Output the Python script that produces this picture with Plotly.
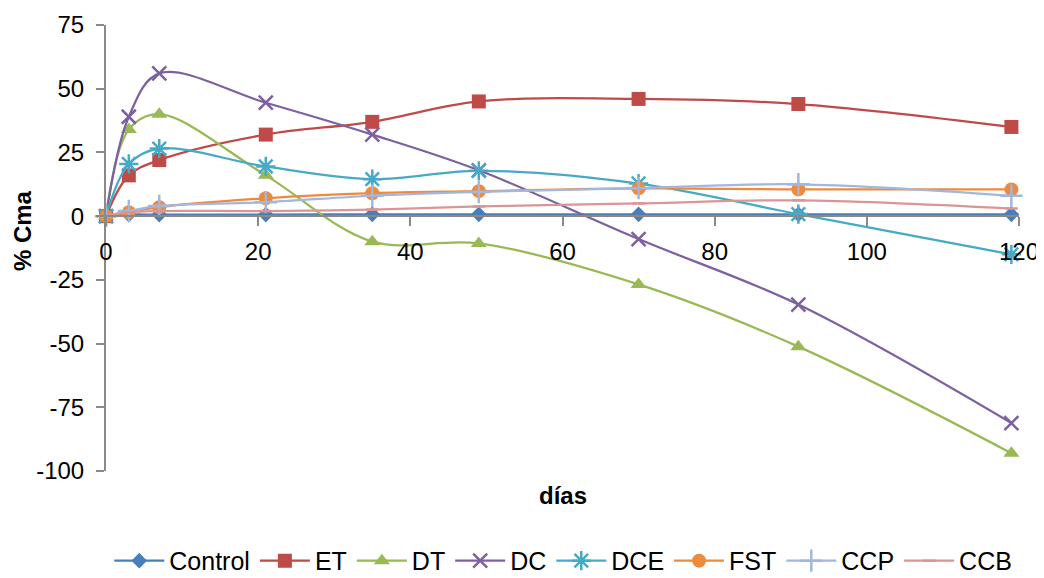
import plotly.graph_objects as go

days = [0, 3, 7, 21, 35, 49, 70, 91, 119]
series_names = ["Control", "ET", "DT", "DC", "DCE", "FST", "CCP", "CCB"]
control = [0, 0.6, 0.6, 0.6, 0.7, 0.7, 0.7, 0.7, 0.7]
et = [0, 16, 22, 32, 37, 45, 46, 44, 35]
dt = [0, 34, 40, 16, -10, -10.7, -26.8, -51.2, -93]
dc = [0, 39, 56, 44.5, 32, 18, -9, -34.7, -81.2]
dce = [0, 20.5, 26.5, 19.5, 14.5, 17.8, 12.8, 0.8, -15]
fst = [0, 1.5, 3.5, 7, 9, 9.8, 10.9, 10.5, 10.5]
ccp = [0, 2, 4, 5.5, 8, 9.5, 11, 12.5, 8]
ccb = [0, 1.5, 2, 2, 2.6, 3.8, 5, 6.2, 3]

yticks = [-100, -75, -50, -25, 0, 25, 50, 75]
ytick_text = ["-100", "-75", "-50", "-25", "0", "25", "50", "75"]
xticks = [0, 20, 40, 60, 80, 100, 120]
xtick_text = ["0", "20", "40", "60", "80", "100", "120"]

values = [control, et, dt, dc, dce, fst, ccp, ccb]
colors = ["#4A7EBB", "#BE4B48", "#98B954", "#7D60A0", "#46AAC5", "#EE8A3C", "#A3B6DD", "#D99694"]
symbols = ["diamond", "square", "triangle-up", "x-thin-open", "asterisk-open",
           "circle", "cross-thin-open", "line-ew-open"]
sizes = [12, 14, 14, 14, 16, 14, 16, 9]

FONT = "Liberation Sans, Arial, sans-serif"

fig = go.Figure()
for name, vals, col, sym, sz in zip(series_names, values, colors, symbols, sizes):
    open_sym = sym.endswith("-open")
    fig.add_trace(go.Scatter(
        x=days, y=vals, name=name, mode="lines+markers",
        line=dict(color=col, width=2.25, shape="spline", smoothing=1),
        marker=dict(symbol=sym, size=sz, color=col,
                    line=dict(color=col, width=2.5) if open_sym else dict(width=0)),
        cliponaxis=False,
    ))

# page body has an 8px default margin; figure sized to fill the rest of the window
fig.update_layout(
    width=1036, height=570,
    margin=dict(l=98, r=25, t=17, b=107, autoexpand=False),
    paper_bgcolor="white", plot_bgcolor="white",
    font=dict(family=FONT, size=24, color="black"),
    showlegend=True,
    legend=dict(orientation="h", x=0.536, xanchor="center", xref="container",
                y=0.03, yanchor="middle", yref="container",
                font=dict(size=25), itemwidth=50, tracegroupgap=0),
    xaxis=dict(range=[0, 120], tickvals=xticks, ticktext=xtick_text,
               showgrid=False, zeroline=False, automargin=False,
               showline=True, linecolor="#898989", linewidth=2,
               ticks="outside", ticklen=9, tickcolor="#898989", tickwidth=2,
               anchor="free", position=100 / 175,
               tickfont=dict(size=24), ticklabelstandoff=5),
    yaxis=dict(range=[-100, 75], tickvals=yticks, ticktext=ytick_text,
               showgrid=False, zeroline=False, automargin=False,
               showline=True, linecolor="#898989", linewidth=2,
               ticks="outside", ticklen=8, tickcolor="#898989", tickwidth=2,
               tickfont=dict(size=24), ticklabelstandoff=7),
    annotations=[
        dict(text="<b>días</b>", xref="paper", yref="paper", x=0.5, y=-0.02,
             xanchor="center", yanchor="top", showarrow=False, font=dict(size=24)),
        dict(text="<b>% Cma</b>", xref="paper", yref="paper", x=-0.092, y=0.538,
             xanchor="center", yanchor="middle", textangle=-90, showarrow=False,
             font=dict(size=24)),
    ],
)

fig.write_html("out.html")
